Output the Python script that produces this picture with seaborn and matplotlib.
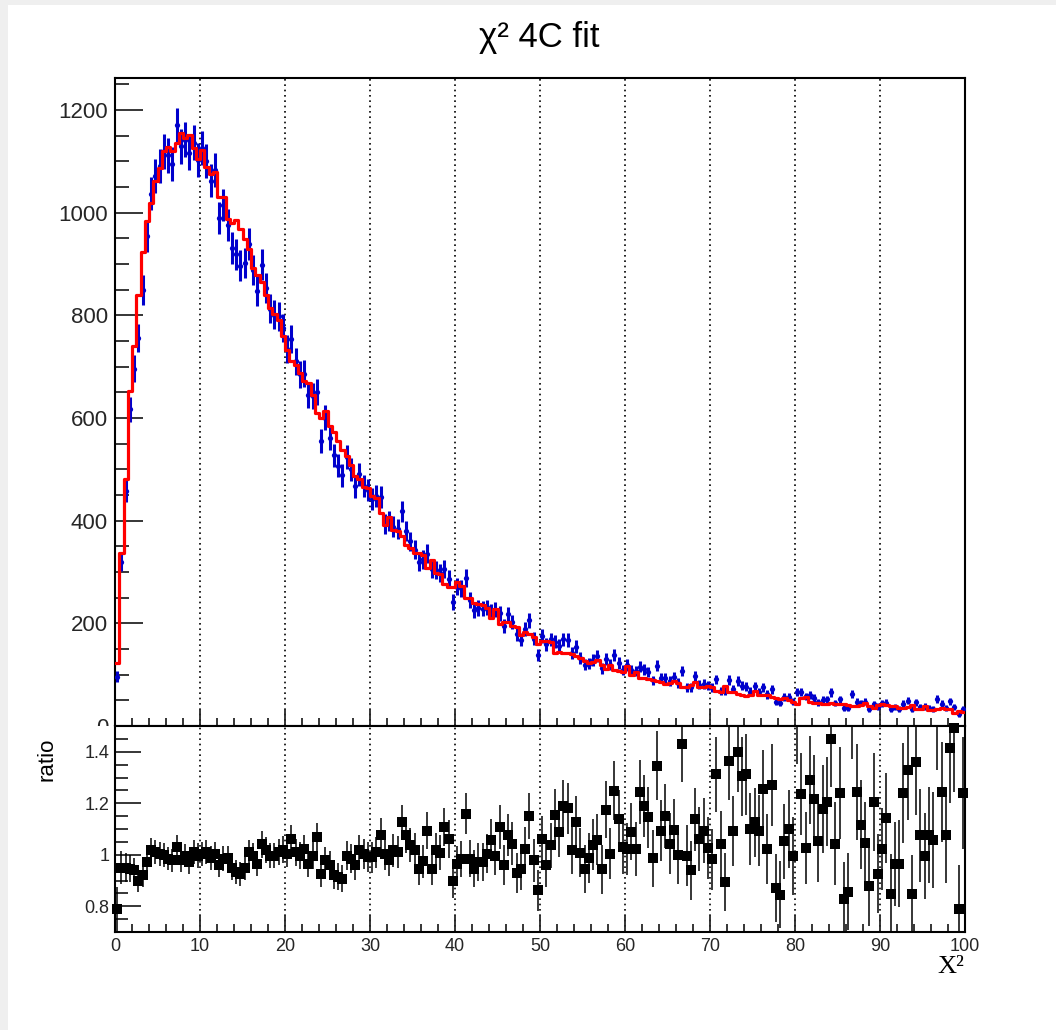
import numpy as np
import pandas as pd
import matplotlib
matplotlib.use("Agg")
import matplotlib.pyplot as plt
from matplotlib.ticker import MultipleLocator, FuncFormatter
from matplotlib.patches import Rectangle
import seaborn as sns

# ---------------- data ----------------
x_min, x_max, n_bins = 0.0, 100.0, 200

mc_counts = [
    122, 336, 482, 652, 740, 839, 923, 983, 1019, 1061,
    1086, 1119, 1128, 1119, 1136, 1154, 1145, 1151, 1125, 1105,
    1121, 1089, 1076, 1079, 1030, 1030, 988, 980, 985, 968,
    949, 929, 891, 878, 864, 839, 815, 803, 790, 760,
    732, 711, 703, 687, 671, 668, 645, 609, 599, 614,
    584, 573, 555, 538, 525, 508, 486, 482, 466, 464,
    447, 444, 414, 392, 408, 382, 379, 371, 353, 346,
    337, 337, 333, 307, 324, 298, 296, 276, 270, 270,
    281, 272, 249, 249, 239, 237, 235, 230, 211, 228,
    198, 202, 202, 194, 192, 178, 184, 179, 174, 160,
    165, 166, 163, 142, 144, 142, 142, 140, 137, 132,
    126, 123, 124, 129, 119, 111, 119, 110, 108, 106,
    116, 100, 105, 93, 93, 92, 90, 87, 85, 82,
    84, 87, 84, 75, 76, 80, 85, 76, 75, 77,
    76, 69, 66, 77, 66, 66, 63, 60, 58, 61,
    69, 61, 60, 60, 56, 54, 53, 54, 51, 47,
    43, 54, 56, 47, 45, 44, 43, 43, 45, 43,
    42, 43, 40, 39, 38, 40, 45, 38, 35, 41,
    43, 40, 38, 38, 35, 35, 37, 40, 34, 34,
    38, 32, 32, 34, 35, 33, 34, 25, 29, 27,
]

ratio_values = [
    0.79, 0.95, 0.95, 0.946, 0.94, 0.90, 0.92, 0.97, 1.017, 1.01,
    1.004, 1.0, 0.985, 0.978, 1.03, 0.978, 0.997, 0.97, 1.01, 0.997,
    1.004, 1.01, 0.987, 1.004, 0.96, 0.985, 0.987, 0.95, 0.933, 0.926,
    0.95, 1.01, 0.997, 0.965, 1.04, 1.017, 0.997, 0.997, 1.01, 1.02,
    1.004, 1.06, 1.01, 0.997, 1.023, 0.965, 0.997, 1.068, 0.926, 0.978,
    0.96, 0.92, 0.914, 0.907, 0.997, 0.985, 0.96, 1.017, 1.004, 0.99,
    0.99, 1.01, 1.077, 1.004, 0.978, 1.017, 1.01, 1.126, 1.075, 1.039,
    1.019, 0.946, 0.974, 1.094, 0.946, 1.017, 1.008, 1.107, 1.062, 0.897,
    0.965, 0.985, 1.159, 0.985, 0.946, 0.972, 0.972, 1.004, 1.059, 0.995,
    1.107, 0.961, 1.077, 1.043, 0.93, 0.943, 1.023, 1.15, 0.978, 0.862,
    1.062, 0.959, 1.036, 1.155, 1.088, 1.188, 1.18, 1.017, 1.129, 1.008,
    0.946, 0.987, 1.039, 1.059, 0.943, 1.175, 1.004, 1.249, 1.139, 1.03,
    1.023, 1.09, 1.023, 1.245, 1.188, 1.146, 0.987, 1.346, 1.094, 1.15,
    1.043, 1.098, 1.0, 1.429, 0.997, 0.939, 1.137, 1.062, 1.094, 1.026,
    0.982, 1.313, 1.04, 0.894, 1.365, 1.092, 1.4, 1.304, 1.313, 1.1,
    1.126, 1.094, 1.255, 1.023, 1.271, 0.871, 0.845, 1.052, 1.1, 0.995,
    1.55, 1.236, 1.027, 1.29, 1.217, 1.053, 1.178, 1.206, 1.451, 1.043,
    1.24, 0.83, 0.856, 1.58, 1.245, 1.117, 1.046, 0.877, 1.204, 0.926,
    1.023, 1.142, 0.849, 0.963, 0.965, 1.24, 1.33, 0.849, 1.362, 1.075,
    0.995, 1.077, 1.058, 1.55, 1.245, 1.075, 1.413, 1.494, 0.791, 1.24,
]

mc_rel_syst = 0.036  # relative MC statistical uncertainty used in the ratio error

title_text = "\u03c7\u00b2 4C fit"
x_label = "X\u00b2"
ratio_label = "ratio"
top_yticks = [0, 200, 400, 600, 800, 1000, 1200]
ratio_yticks = [0.8, 1.0, 1.2, 1.4]
x_ticks = [0, 10, 20, 30, 40, 50, 60, 70, 80, 90, 100]

# ---------------- derived ----------------
mc = np.array(mc_counts, dtype=float)
ratio = np.array(ratio_values, dtype=float)
edges = np.linspace(x_min, x_max, n_bins + 1)
centers = 0.5 * (edges[:-1] + edges[1:])
data = mc * ratio
data_err = np.sqrt(data)
ratio_err = ratio * np.sqrt(1.0 / data + mc_rel_syst ** 2)
mc_df = pd.DataFrame({"chi2": centers, "weight": mc})

# ---------------- style ----------------
sns.set_theme(style="ticks")
plt.rcParams['font.family'] = ['Liberation Sans', 'DejaVu Sans']
plt.rcParams['axes.linewidth'] = 1.5
plt.rcParams['xtick.direction'] = 'in'
plt.rcParams['ytick.direction'] = 'in'

W, H = 1056, 1030
fig = plt.figure(figsize=(W / 100, H / 100), dpi=100)
fig.patch.set_facecolor('#efefef')
fig.add_artist(Rectangle((8 / W, 0), 1 - 8 / W, 1 - 5 / H, transform=fig.transFigure,
                         facecolor='white', edgecolor='none', zorder=-10))

L, R = 115, 965
top_t, mid, bot = 78, 726, 932
ax1 = fig.add_axes([L / W, 1 - mid / H, (R - L) / W, (mid - top_t) / H])
ax2 = fig.add_axes([L / W, 1 - bot / H, (R - L) / W, (bot - mid) / H])
ax1.set_zorder(0)
ax2.set_zorder(2)

# ---------- top panel ----------
ax1.errorbar(centers, data, yerr=data_err, fmt='o', ms=3.8, mew=0,
             color='#0000cc', ecolor='#0000cc', elinewidth=2.2, capsize=0, zorder=3)
sns.histplot(data=mc_df, x="chi2", weights="weight", bins=n_bins,
             binrange=(x_min, x_max), element='step',
             fill=False, color='#ff0000', linewidth=2.3, ax=ax1)
for ln in ax1.lines:
    ln.set_zorder(4)
ax1.set_xlim(x_min, x_max)
ax1.set_ylim(0, 1262)
ax1.set_xlabel('')
ax1.set_ylabel('')
ax1.set_yticks(top_yticks)
ax1.yaxis.set_minor_locator(MultipleLocator(50))
ax1.set_xticks(x_ticks)
ax1.xaxis.set_minor_locator(MultipleLocator(2))
ax1.tick_params(axis='y', which='major', length=20, width=1.3, labelsize=16, pad=5,
                left=True, right=False)
ax1.tick_params(axis='y', which='minor', length=10, width=1.3, left=True, right=False)
ax1.tick_params(axis='x', which='major', length=11.5, width=1.3, labelbottom=False,
                bottom=True, top=False)
ax1.tick_params(axis='x', which='minor', length=5.8, width=1.3, bottom=True, top=False)
ax1.xaxis.grid(True, which='major', linestyle=(0, (1, 2.2)), color='black', linewidth=1.2)
ax1.yaxis.grid(False)
ax1.set_axisbelow(True)
for s in ax1.spines.values():
    s.set_color('black')
    s.set_linewidth(1.5)

# cover for the lower half of the "0" label (pad boundary)
fig.add_artist(Rectangle((8 / W, 0), (L - 8.5) / W, 1 - mid / H, transform=fig.transFigure,
                         facecolor='white', edgecolor='none', zorder=1))

# ---------- ratio panel ----------
ax2.errorbar(centers, ratio, yerr=ratio_err, fmt='none', ecolor='black',
             elinewidth=1.1, capsize=0, zorder=3)
inrange = (ratio >= 0.7) & (ratio <= 1.5)
sns.scatterplot(x=centers[inrange], y=ratio[inrange], marker='s', s=60, color='black',
                linewidth=0, ax=ax2, zorder=4, clip_on=False)
ax2.set_xlim(x_min, x_max)
ax2.set_ylim(0.7, 1.5)
ax2.set_xlabel('')
ax2.set_ylabel('')
ax2.set_yticks(ratio_yticks)
ax2.yaxis.set_major_formatter(FuncFormatter(lambda v, p: f"{v:g}"))
ax2.yaxis.set_minor_locator(MultipleLocator(0.05))
ax2.set_xticks(x_ticks)
ax2.xaxis.set_minor_locator(MultipleLocator(2))
ax2.tick_params(axis='y', which='major', length=19, width=1.3, labelsize=13, pad=4,
                left=True, right=False)
ax2.tick_params(axis='y', which='minor', length=9.4, width=1.3, left=True, right=False)
ax2.tick_params(axis='x', which='major', length=11.5, width=1.3, labelsize=13, pad=4,
                bottom=True, top=False)
ax2.tick_params(axis='x', which='minor', length=5.8, width=1.3, bottom=True, top=False)
ax2.xaxis.grid(True, which='major', linestyle=(0, (1, 2.2)), color='black', linewidth=1.2)
ax2.yaxis.grid(False)
ax2.set_axisbelow(True)
for s in ax2.spines.values():
    s.set_color('black')
    s.set_linewidth(1.5)

# ---------- texts ----------
fig.text(539 / W, 1 - 37 / H, title_text, ha='center', va='center', fontsize=25,
         color='black', zorder=5)
fig.text(47 / W, 1 - 759 / H, ratio_label, ha='center', va='center', rotation=90,
         fontsize=16, color='black', zorder=5)
fig.text(964 / W, 1 - 967 / H, x_label, ha='right', va='center', fontsize=19,
         family=['Liberation Serif', 'DejaVu Serif'], color='black', zorder=5)

fig.savefig('out.png', dpi=100, facecolor=fig.get_facecolor())
